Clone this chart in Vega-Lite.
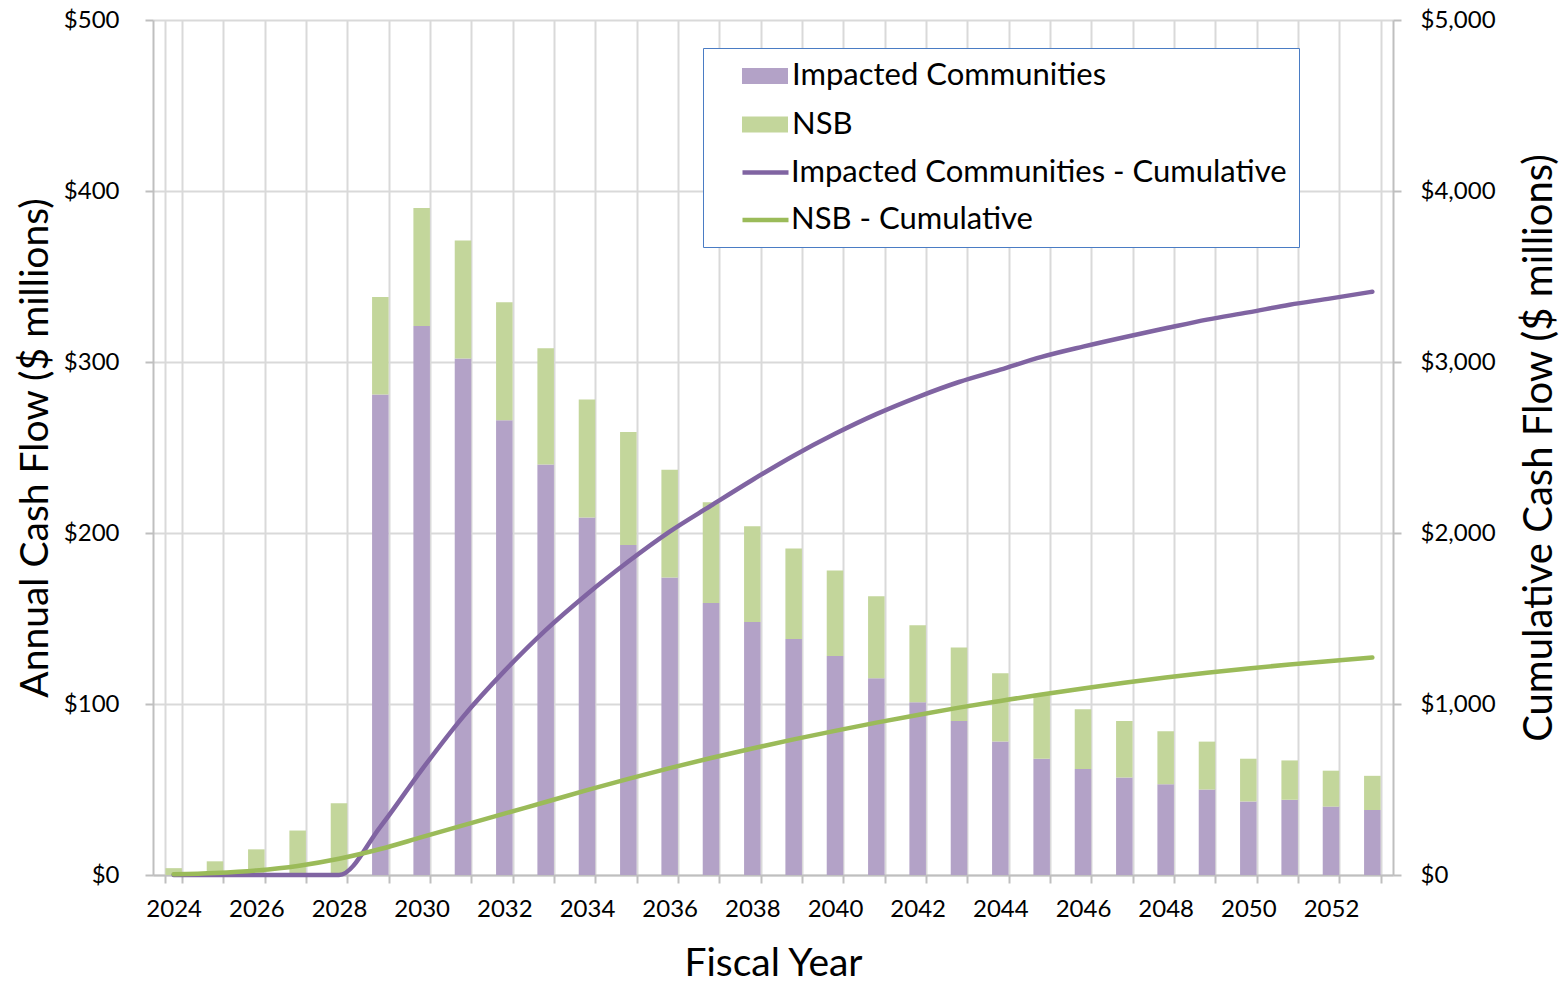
{
  "$schema": "https://vega.github.io/schema/vega-lite/v6.json",
  "width": 1240,
  "height": 855,
  "autosize": {"type": "none"},
  "padding": {"left": 153, "top": 20, "right": 172, "bottom": 107},
  "background": "white",
  "config": {
    "view": {"stroke": null},
    "font": "Lato",
    "axis": {
      "labelFont": "Lato",
      "titleFont": "Lato",
      "labelColor": "black",
      "titleColor": "black",
      "titleFontWeight": "normal",
      "domainColor": "#bfbfbf",
      "domainWidth": 2,
      "tickColor": "#bfbfbf",
      "tickWidth": 2,
      "tickSize": 8,
      "gridColor": "#d9d9d9",
      "gridWidth": 2
    }
  },
  "datasets": {
    "annual": [
      {"year": 2024, "series": "Impacted Communities", "value": 0},
      {"year": 2025, "series": "Impacted Communities", "value": 0},
      {"year": 2026, "series": "Impacted Communities", "value": 0},
      {"year": 2027, "series": "Impacted Communities", "value": 0},
      {"year": 2028, "series": "Impacted Communities", "value": 0},
      {"year": 2029, "series": "Impacted Communities", "value": 281},
      {"year": 2030, "series": "Impacted Communities", "value": 321},
      {"year": 2031, "series": "Impacted Communities", "value": 302},
      {"year": 2032, "series": "Impacted Communities", "value": 266},
      {"year": 2033, "series": "Impacted Communities", "value": 240},
      {"year": 2034, "series": "Impacted Communities", "value": 209},
      {"year": 2035, "series": "Impacted Communities", "value": 193},
      {"year": 2036, "series": "Impacted Communities", "value": 174},
      {"year": 2037, "series": "Impacted Communities", "value": 159},
      {"year": 2038, "series": "Impacted Communities", "value": 148},
      {"year": 2039, "series": "Impacted Communities", "value": 138},
      {"year": 2040, "series": "Impacted Communities", "value": 128},
      {"year": 2041, "series": "Impacted Communities", "value": 115},
      {"year": 2042, "series": "Impacted Communities", "value": 101},
      {"year": 2043, "series": "Impacted Communities", "value": 90},
      {"year": 2044, "series": "Impacted Communities", "value": 78},
      {"year": 2045, "series": "Impacted Communities", "value": 68},
      {"year": 2046, "series": "Impacted Communities", "value": 62},
      {"year": 2047, "series": "Impacted Communities", "value": 57},
      {"year": 2048, "series": "Impacted Communities", "value": 53},
      {"year": 2049, "series": "Impacted Communities", "value": 50},
      {"year": 2050, "series": "Impacted Communities", "value": 43},
      {"year": 2051, "series": "Impacted Communities", "value": 44},
      {"year": 2052, "series": "Impacted Communities", "value": 40},
      {"year": 2053, "series": "Impacted Communities", "value": 38},
      {"year": 2024, "series": "NSB", "value": 4},
      {"year": 2025, "series": "NSB", "value": 8},
      {"year": 2026, "series": "NSB", "value": 15},
      {"year": 2027, "series": "NSB", "value": 26},
      {"year": 2028, "series": "NSB", "value": 42},
      {"year": 2029, "series": "NSB", "value": 57},
      {"year": 2030, "series": "NSB", "value": 69},
      {"year": 2031, "series": "NSB", "value": 69},
      {"year": 2032, "series": "NSB", "value": 69},
      {"year": 2033, "series": "NSB", "value": 68},
      {"year": 2034, "series": "NSB", "value": 69},
      {"year": 2035, "series": "NSB", "value": 66},
      {"year": 2036, "series": "NSB", "value": 63},
      {"year": 2037, "series": "NSB", "value": 59},
      {"year": 2038, "series": "NSB", "value": 56},
      {"year": 2039, "series": "NSB", "value": 53},
      {"year": 2040, "series": "NSB", "value": 50},
      {"year": 2041, "series": "NSB", "value": 48},
      {"year": 2042, "series": "NSB", "value": 45},
      {"year": 2043, "series": "NSB", "value": 43},
      {"year": 2044, "series": "NSB", "value": 40},
      {"year": 2045, "series": "NSB", "value": 38},
      {"year": 2046, "series": "NSB", "value": 35},
      {"year": 2047, "series": "NSB", "value": 33},
      {"year": 2048, "series": "NSB", "value": 31},
      {"year": 2049, "series": "NSB", "value": 28},
      {"year": 2050, "series": "NSB", "value": 25},
      {"year": 2051, "series": "NSB", "value": 23},
      {"year": 2052, "series": "NSB", "value": 21},
      {"year": 2053, "series": "NSB", "value": 20}
    ],
    "cumulative": [
      {"year": 2024, "series": "Impacted Communities - Cumulative", "cumulative": 0},
      {"year": 2025, "series": "Impacted Communities - Cumulative", "cumulative": 0},
      {"year": 2026, "series": "Impacted Communities - Cumulative", "cumulative": 0},
      {"year": 2027, "series": "Impacted Communities - Cumulative", "cumulative": 0},
      {"year": 2028, "series": "Impacted Communities - Cumulative", "cumulative": 0},
      {"year": 2029, "series": "Impacted Communities - Cumulative", "cumulative": 282},
      {"year": 2030, "series": "Impacted Communities - Cumulative", "cumulative": 615},
      {"year": 2031, "series": "Impacted Communities - Cumulative", "cumulative": 925},
      {"year": 2032, "series": "Impacted Communities - Cumulative", "cumulative": 1192},
      {"year": 2033, "series": "Impacted Communities - Cumulative", "cumulative": 1432},
      {"year": 2034, "series": "Impacted Communities - Cumulative", "cumulative": 1642},
      {"year": 2035, "series": "Impacted Communities - Cumulative", "cumulative": 1833},
      {"year": 2036, "series": "Impacted Communities - Cumulative", "cumulative": 2008},
      {"year": 2037, "series": "Impacted Communities - Cumulative", "cumulative": 2160},
      {"year": 2038, "series": "Impacted Communities - Cumulative", "cumulative": 2310},
      {"year": 2039, "series": "Impacted Communities - Cumulative", "cumulative": 2452},
      {"year": 2040, "series": "Impacted Communities - Cumulative", "cumulative": 2580},
      {"year": 2041, "series": "Impacted Communities - Cumulative", "cumulative": 2695},
      {"year": 2042, "series": "Impacted Communities - Cumulative", "cumulative": 2795},
      {"year": 2043, "series": "Impacted Communities - Cumulative", "cumulative": 2883},
      {"year": 2044, "series": "Impacted Communities - Cumulative", "cumulative": 2955},
      {"year": 2045, "series": "Impacted Communities - Cumulative", "cumulative": 3030},
      {"year": 2046, "series": "Impacted Communities - Cumulative", "cumulative": 3090},
      {"year": 2047, "series": "Impacted Communities - Cumulative", "cumulative": 3145},
      {"year": 2048, "series": "Impacted Communities - Cumulative", "cumulative": 3197},
      {"year": 2049, "series": "Impacted Communities - Cumulative", "cumulative": 3248},
      {"year": 2050, "series": "Impacted Communities - Cumulative", "cumulative": 3290},
      {"year": 2051, "series": "Impacted Communities - Cumulative", "cumulative": 3335},
      {"year": 2052, "series": "Impacted Communities - Cumulative", "cumulative": 3372},
      {"year": 2053, "series": "Impacted Communities - Cumulative", "cumulative": 3411},
      {"year": 2024, "series": "NSB - Cumulative", "cumulative": 4},
      {"year": 2025, "series": "NSB - Cumulative", "cumulative": 12},
      {"year": 2026, "series": "NSB - Cumulative", "cumulative": 27},
      {"year": 2027, "series": "NSB - Cumulative", "cumulative": 53},
      {"year": 2028, "series": "NSB - Cumulative", "cumulative": 95},
      {"year": 2029, "series": "NSB - Cumulative", "cumulative": 152},
      {"year": 2030, "series": "NSB - Cumulative", "cumulative": 221},
      {"year": 2031, "series": "NSB - Cumulative", "cumulative": 290},
      {"year": 2032, "series": "NSB - Cumulative", "cumulative": 359},
      {"year": 2033, "series": "NSB - Cumulative", "cumulative": 427},
      {"year": 2034, "series": "NSB - Cumulative", "cumulative": 496},
      {"year": 2035, "series": "NSB - Cumulative", "cumulative": 562},
      {"year": 2036, "series": "NSB - Cumulative", "cumulative": 625},
      {"year": 2037, "series": "NSB - Cumulative", "cumulative": 684},
      {"year": 2038, "series": "NSB - Cumulative", "cumulative": 740},
      {"year": 2039, "series": "NSB - Cumulative", "cumulative": 793},
      {"year": 2040, "series": "NSB - Cumulative", "cumulative": 843},
      {"year": 2041, "series": "NSB - Cumulative", "cumulative": 891},
      {"year": 2042, "series": "NSB - Cumulative", "cumulative": 936},
      {"year": 2043, "series": "NSB - Cumulative", "cumulative": 979},
      {"year": 2044, "series": "NSB - Cumulative", "cumulative": 1018},
      {"year": 2045, "series": "NSB - Cumulative", "cumulative": 1056},
      {"year": 2046, "series": "NSB - Cumulative", "cumulative": 1091},
      {"year": 2047, "series": "NSB - Cumulative", "cumulative": 1124},
      {"year": 2048, "series": "NSB - Cumulative", "cumulative": 1155},
      {"year": 2049, "series": "NSB - Cumulative", "cumulative": 1183},
      {"year": 2050, "series": "NSB - Cumulative", "cumulative": 1208},
      {"year": 2051, "series": "NSB - Cumulative", "cumulative": 1231},
      {"year": 2052, "series": "NSB - Cumulative", "cumulative": 1252},
      {"year": 2053, "series": "NSB - Cumulative", "cumulative": 1272}
    ]
  },
  "layer": [
    {
      "data": {"name": "annual"},
      "mark": {"type": "bar"},
      "encoding": {
        "x": {
          "field": "year",
          "type": "ordinal",
          "scale": {"paddingInner": 0.6, "paddingOuter": 0.3},
          "axis": {
            "title": "Fiscal Year",
            "titleFontSize": 39,
            "titlePadding": 23,
            "labelFontSize": 24,
            "labelAngle": 0,
            "labelPadding": 14,
            "labelOverlap": false,
            "labelExpr": "datum.value % 2 == 0 ? datum.label : ''",
            "tickBand": "extent",
            "grid": true
          }
        },
        "y": {
          "field": "value",
          "type": "quantitative",
          "stack": "zero",
          "scale": {"domain": [0, 500]},
          "axis": {
            "title": "Annual Cash Flow ($ millions)",
            "titleFontSize": 39,
            "titlePadding": 8,
            "values": [0, 100, 200, 300, 400, 500],
            "format": "$,.0f",
            "labelFontSize": 24,
            "labelPadding": 26,
            "grid": true
          }
        },
        "color": {
          "field": "series",
          "type": "nominal",
          "scale": {
            "domain": ["Impacted Communities", "NSB"],
            "range": ["#b3a2c7", "#c3d69b"]
          },
          "legend": {
            "orient": "none",
            "legendX": 596.5,
            "legendY": 40.5,
            "title": null,
            "direction": "vertical",
            "padding": 0,
            "zindex": 2,
            "labelFont": "Lato",
            "labelFontSize": 31,
            "labelColor": "black",
            "labelLimit": 700,
            "symbolType": "M-1.704,-0.593H1.704V0.593H-1.704Z",
            "symbolSize": 729,
            "symbolStrokeWidth": 0,
            "symbolOpacity": 1,
            "rowPadding": 16.5,
            "symbolOffset": 0,
            "labelOffset": 11.5
          }
        },
        "order": {"field": "series", "sort": "ascending"}
      }
    },
    {
      "data": {"name": "cumulative"},
      "mark": {"type": "line", "strokeWidth": 4.5, "interpolate": "monotone", "strokeCap": "round", "strokeJoin": "round"},
      "encoding": {
        "x": {"field": "year", "type": "ordinal"},
        "y": {
          "field": "cumulative",
          "type": "quantitative",
          "scale": {"domain": [0, 5000]},
          "axis": {
            "orient": "right",
            "title": "Cumulative Cash Flow  ($ millions)",
            "titleFontSize": 40,
            "titleAngle": 270,
            "titleBaseline": "top",
            "titlePadding": 24,
            "values": [0, 1000, 2000, 3000, 4000, 5000],
            "format": "$,.0f",
            "labelFontSize": 24,
            "labelPadding": 19,
            "grid": false
          }
        },
        "stroke": {
          "field": "series",
          "type": "nominal",
          "scale": {
            "domain": ["Impacted Communities - Cumulative", "NSB - Cumulative"],
            "range": ["#8064a2", "#9bbb59"]
          },
          "legend": {
            "orient": "none",
            "legendX": 550,
            "legendY": 28,
            "title": " ",
            "titleOrient": "top",
            "titleFontSize": 80,
            "titlePadding": 16.5,
            "direction": "vertical",
            "padding": 12,
            "zindex": 1,
            "strokeColor": "#4a7cc4",
            "fillColor": "white",
            "labelFont": "Lato",
            "labelFontSize": 31,
            "labelColor": "black",
            "labelLimit": 700,
            "symbolType": "M-1.704,0H1.704",
            "symbolSize": 729,
            "symbolStrokeWidth": 4.5,
            "symbolFillColor": "transparent",
            "rowPadding": 16.5,
            "symbolOffset": 34.5,
            "labelOffset": 9.5
          }
        }
      }
    }
  ],
  "resolve": {"scale": {"y": "independent"}}
}
